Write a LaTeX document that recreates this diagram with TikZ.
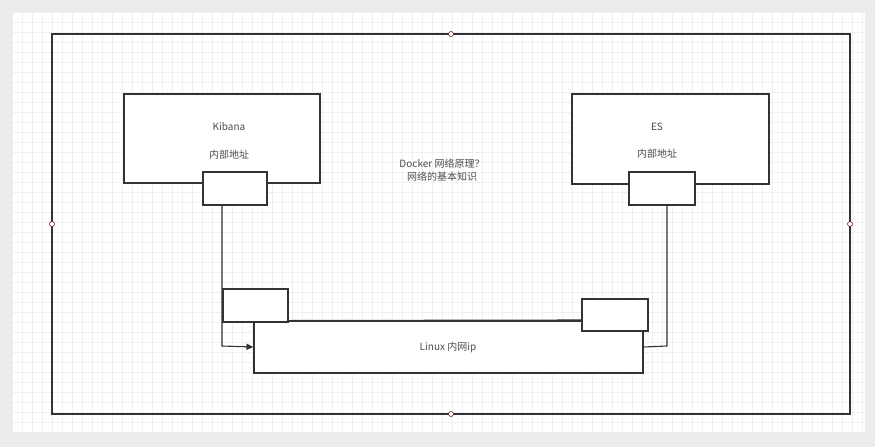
\documentclass[tikz,border=0pt]{standalone}
\usepackage{fontspec}
\setmainfont{Noto Sans CJK SC}
\usetikzlibrary{arrows.meta}
\definecolor{ln}{gray}{0.2}
\definecolor{tx}{gray}{0.3}
\tikzset{box/.style={draw=ln,line width=1.1pt,fill=white},
 wire/.style={draw=ln,line width=1.1pt},
 lbl/.style={text=tx,font=\fontsize{10}{13}\selectfont,inner sep=0pt},
 handle/.style={circle,draw=black!60!red,fill=white,line width=0.5pt,minimum size=5pt,inner sep=0pt}}
\begin{document}
\begin{tikzpicture}[x=1pt,y=-1pt]
\fill[gray!15] (0,0) rectangle (875,447);
\fill[white] (12,12) rectangle (865,432);
\foreach \i in {0,...,85} {\draw[gray!12,line width=0.4pt] (12+10*\i,12) -- (12+10*\i,432);}
\foreach \j in {0,...,42} {\draw[gray!12,line width=0.4pt] (12,12+10*\j) -- (865,12+10*\j);}
\draw[ln,line width=1.1pt] (52,34) rectangle (850,414);
\node[handle] (h1) at (451,34) {};
\node[handle] (h2) at (451,414) {};
\node[handle] (h3) at (52,224) {};
\node[handle] (h4) at (850,224) {};
\path[box] (124,94) rectangle (320,183);
\node[lbl] (kt) at (229,127) {Kibana};
\node[lbl] (ka) at (229,155) {内部地址};
\node[box,minimum width=64pt,minimum height=33pt,inner sep=0pt] (kp) at (235,188.5) {};
\path[box] (572,94) rectangle (769,184);
\node[lbl] (et) at (657,127) {ES};
\node[lbl] (ea) at (657,154) {内部地址};
\node[box,minimum width=66pt,minimum height=33pt,inner sep=0pt] (ep) at (662,188.5) {};
\node[lbl,align=center] (dk) at (442,170) {Docker 网络原理？\\网络的基本知识};
\node[box,minimum width=389pt,minimum height=52pt,inner sep=0pt] (lx) at (448.5,347) {};
\node[lbl] (lt) at (448,347) {Linux 内网ip};
\node[box,minimum width=65pt,minimum height=33pt,inner sep=0pt] (b1) at (255.5,305.5) {};
\node[box,minimum width=66pt,minimum height=32pt,inner sep=0pt] (b2) at (615,315) {};
\draw[wire] (b1.south east) ++(0,-2) -- (b2.west |- 288,320);
\draw[wire,-{Triangle[length=7pt,width=6pt]}] (kp.south -| 222,0) -- (222,346) -- (lx.west);
\draw[wire] (ep.south -| 667,0) -- (667,346) -- (lx.east);
\end{tikzpicture}
\end{document}
